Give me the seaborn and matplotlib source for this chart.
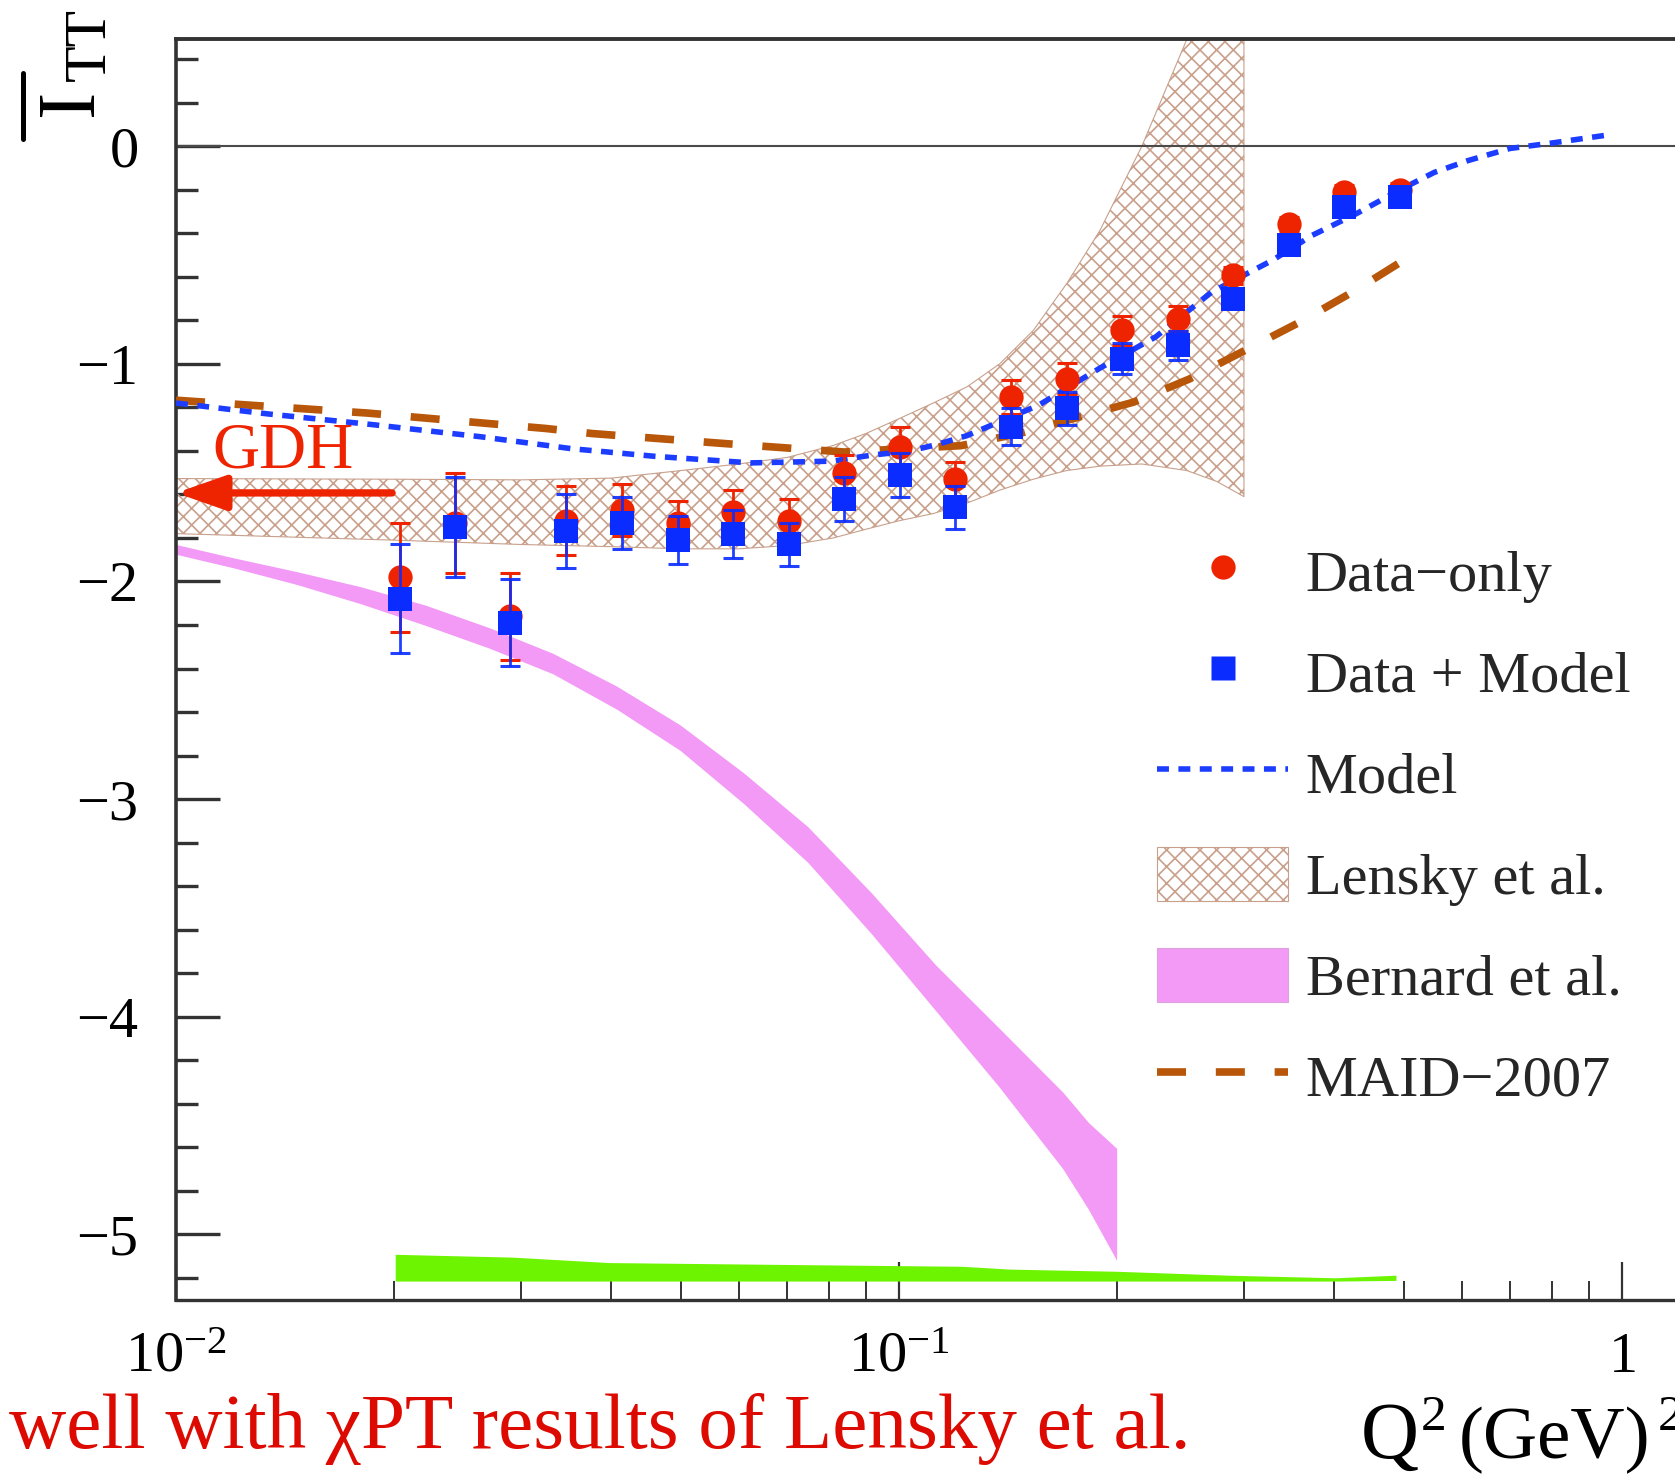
import numpy as np
import matplotlib
matplotlib.use("Agg")
import matplotlib.pyplot as plt
import seaborn as sns
from matplotlib.lines import Line2D
from matplotlib.patches import Patch, FancyArrowPatch
from matplotlib.ticker import FixedLocator, MultipleLocator, LogLocator, NullFormatter

sns.set_theme(style="white")
plt.rcParams["font.family"] = ["Liberation Serif", "DejaVu Serif"]
plt.rcParams["mathtext.fontset"] = "custom"
plt.rcParams["mathtext.rm"] = "Liberation Serif"
plt.rcParams["mathtext.it"] = "Liberation Serif:italic"
plt.rcParams["mathtext.bf"] = "Liberation Serif:bold"
plt.rcParams["hatch.linewidth"] = 1.2
plt.rcParams["axes.unicode_minus"] = True

# ---- measured points: Q^2 (GeV^2) ----
q2 = [0.0204, 0.0243, 0.0290, 0.0346, 0.0414, 0.0494, 0.0590, 0.0704, 0.0839,
      0.1002, 0.1196, 0.1430, 0.1706, 0.2037, 0.2432, 0.2900, 0.3462, 0.4132, 0.4932]
data_only = [-1.98, -1.73, -2.16, -1.72, -1.67, -1.73, -1.68, -1.72, -1.50,
             -1.38, -1.53, -1.152, -1.068, -0.846, -0.792, -0.593, -0.358, -0.21, -0.20]
data_only_err = [0.25, 0.23, 0.20, 0.16, 0.12, 0.10, 0.10, 0.10, 0.08,
                 0.09, 0.08, 0.08, 0.07, 0.065, 0.057, 0.04, 0.035, 0.03, 0.03]
data_model = [-2.08, -1.75, -2.19, -1.77, -1.73, -1.81, -1.78, -1.83, -1.62,
              -1.51, -1.66, -1.29, -1.205, -0.976, -0.915, -0.70, -0.455, -0.28, -0.235]
data_model_err = [0.25, 0.23, 0.20, 0.17, 0.12, 0.11, 0.11, 0.10, 0.10,
                  0.10, 0.10, 0.085, 0.077, 0.07, 0.065, 0.04, 0.035, 0.03, 0.03]

# ---- model curve ----
model_q2 = [0.0100, 0.0134, 0.0188, 0.0264, 0.0353, 0.0460, 0.0624, 0.0809, 0.0914,
            0.1036, 0.1130, 0.1241, 0.1560, 0.1895, 0.2265, 0.2707, 0.3289, 0.3724,
            0.4290, 0.4930, 0.5500, 0.6120, 0.7000, 0.8000, 0.9700]
model_val = [-1.18, -1.23, -1.28, -1.335, -1.39, -1.425, -1.455, -1.447, -1.42,
             -1.40, -1.37, -1.33, -1.19, -1.02, -0.876, -0.67, -0.523, -0.41,
             -0.31, -0.20, -0.12, -0.066, -0.01, 0.015, 0.055]

# ---- MAID-2007 ----
maid_q2 = [0.0100, 0.0184, 0.0325, 0.0376, 0.0573, 0.0840, 0.1217, 0.1480, 0.1767,
           0.2110, 0.2520, 0.3010, 0.3594, 0.4290, 0.4900]
maid_val = [-1.167, -1.226, -1.297, -1.320, -1.366, -1.405, -1.376, -1.317, -1.246,
            -1.176, -1.070, -0.938, -0.806, -0.660, -0.540]

# ---- Lensky et al. band ----
lensky_q2 = [0.0100, 0.0200, 0.0300, 0.0400, 0.0500, 0.0600, 0.0700, 0.0811, 0.0900,
             0.1003, 0.1115, 0.1241, 0.1379, 0.1534, 0.1706, 0.1897, 0.2167, 0.2500,
             0.2750, 0.3000]
lensky_hi = [-1.527, -1.530, -1.533, -1.525, -1.49, -1.46, -1.43, -1.375, -1.32,
             -1.25, -1.18, -1.106, -0.999, -0.846, -0.631, -0.386, 0.0, 0.49, 1.0, 1.6]
lensky_lo = [-1.78, -1.81, -1.83, -1.84, -1.85, -1.85, -1.835, -1.80, -1.76,
             -1.72, -1.688, -1.64, -1.58, -1.53, -1.49, -1.47, -1.46, -1.49, -1.54, -1.61]

# ---- Bernard et al. band ----
bern_q2 = [0.0100, 0.0120, 0.0147, 0.0180, 0.0221, 0.0271, 0.0332, 0.0407, 0.0498,
           0.0610, 0.0748, 0.0916, 0.1123, 0.1375, 0.1685, 0.1828, 0.2000]
bern_hi = [-1.83, -1.891, -1.955, -2.024, -2.108, -2.212, -2.33, -2.481, -2.659,
           -2.880, -3.127, -3.431, -3.761, -4.052, -4.347, -4.486, -4.605]
bern_lo = [-1.875, -1.937, -2.014, -2.102, -2.201, -2.306, -2.424, -2.587, -2.776,
           -3.021, -3.291, -3.619, -3.971, -4.322, -4.699, -4.885, -5.12]

# ---- lower green band ----
green_q2 = [0.0201, 0.0292, 0.0397, 0.0758, 0.1220, 0.1423, 0.2000, 0.2857, 0.4010, 0.4868]
green_hi = [-5.092, -5.105, -5.130, -5.140, -5.147, -5.160, -5.170, -5.188, -5.200, -5.188]
green_lo = [-5.215, -5.215, -5.215, -5.215, -5.215, -5.215, -5.215, -5.215, -5.215, -5.212]

# GDH sum-rule value at the real-photon point
gdh_value = -1.593
gdh_arrow_from = 0.0199

x_ticks = [0.01, 0.1, 1]
x_tick_labels = [r"$10^{-2}$", r"$10^{-1}$", r"$1$"]
y_ticks = [0, -1, -2, -3, -4, -5]
y_tick_labels = ["0", "\u22121", "\u22122", "\u22123", "\u22124", "\u22125"]

RED = "#ee2400"
BLUE = "#0a2cff"
BLUE_LINE = "#1c3cff"
BROWN = "#b8560a"
PINK = "#f29af6"
GREEN = "#6cf400"
HATCH = "#c8a08c"
AXCOL = "#333333"

W, H = 1675, 1474
fig = plt.figure(figsize=(W / 100, H / 100), dpi=100)
fig.patch.set_facecolor("white")
ax_l, ax_r, ax_t, ax_b = 176, 1700, 39, 1300
ax = fig.add_axes([ax_l / W, 1 - ax_b / H, (ax_r - ax_l) / W, (ax_b - ax_t) / H])
ax.set_facecolor("white")
ax.set_xscale("log")
ax.set_xlim(0.01, 10 ** (-2 + (ax_r - ax_l) / 723))
ax.set_ylim(-5.302, 0.493)

# theory bands
ax.fill_between(green_q2, green_lo, green_hi, color=GREEN, lw=0, zorder=1)
ax.fill_between(bern_q2, bern_lo, bern_hi, color=PINK, lw=0, zorder=1)
ax.fill_between(lensky_q2, lensky_lo, lensky_hi, facecolor="none", edgecolor=HATCH,
                hatch="xx", lw=0.8, zorder=2)

ax.axhline(0, color="#4a4a4a", lw=1.5, zorder=2.5)

# model curves
sns.lineplot(x=maid_q2, y=maid_val, ax=ax, color=BROWN, lw=5.5, estimator=None,
             sort=False, legend=False, linestyle=(0, (3.8, 3.9)),
             dash_capstyle="butt", zorder=3)
sns.lineplot(x=model_q2, y=model_val, ax=ax, color=BLUE_LINE, lw=4.0, estimator=None,
             sort=False, legend=False, linestyle=(0, (2.15, 1.7)),
             dash_capstyle="butt", zorder=3.2)

# data points
ax.errorbar(q2, data_only, yerr=data_only_err, fmt="none", ecolor=RED,
            elinewidth=2.0, capsize=7, capthick=2.2, zorder=4)
sns.scatterplot(x=q2, y=data_only, ax=ax, color=RED, marker="o", s=17.5 ** 2,
                linewidth=0, legend=False, zorder=5)
ax.errorbar(q2, data_model, yerr=data_model_err, fmt="none", ecolor=BLUE,
            elinewidth=2.0, capsize=7, capthick=2.2, alpha=0.9, zorder=6)
sns.scatterplot(x=q2, y=data_model, ax=ax, color=BLUE, marker="s", s=17.5 ** 2,
                linewidth=0, legend=False, zorder=7)

# GDH arrow and label
arrow = FancyArrowPatch((gdh_arrow_from, gdh_value), (0.01, gdh_value),
                        arrowstyle="-|>,head_length=30,head_width=10.5",
                        mutation_scale=1, lw=5.3, color=RED,
                        shrinkA=0, shrinkB=0, zorder=8)
ax.add_patch(arrow)
ax.text(0.01122, -1.475, "GDH", color=RED, fontsize=47, ha="left", va="baseline",
        zorder=8)

# axes styling
ax.xaxis.set_major_locator(FixedLocator(x_ticks))
ax.set_xticklabels(x_tick_labels)
ax.xaxis.set_minor_locator(LogLocator(base=10, subs=np.arange(2, 10)))
ax.xaxis.set_minor_formatter(NullFormatter())
ax.yaxis.set_major_locator(FixedLocator(y_ticks))
ax.set_yticklabels(y_tick_labels)
ax.yaxis.set_minor_locator(MultipleLocator(0.2))

ax.tick_params(axis="x", which="major", direction="in", length=27.5, width=1.6,
               color=AXCOL, labelsize=42, labelcolor="black", pad=51.8,
               bottom=True, top=False)
ax.tick_params(axis="x", which="minor", direction="in", length=13.7, width=1.4,
               color=AXCOL, bottom=True, top=False)
ax.tick_params(axis="y", which="major", direction="in", length=32, width=2.4,
               color=AXCOL, labelsize=42, labelcolor="black", pad=27,
               left=True, right=False)
ax.tick_params(axis="y", which="minor", direction="in", length=16, width=2.4,
               color=AXCOL, left=True, right=False)
for lbl in ax.get_xticklabels():
    lbl.set_verticalalignment("baseline")

for side in ("left", "bottom", "top"):
    ax.spines[side].set_color(AXCOL)
    ax.spines[side].set_visible(True)
ax.spines["left"].set_linewidth(2.6)
ax.spines["bottom"].set_linewidth(2.4)
ax.spines["top"].set_linewidth(2.8)
ax.spines["right"].set_visible(False)
ax.grid(False)

# legend
handles = [
    Line2D([], [], ls="none", marker="o", ms=17.5, mfc=RED, mec="none"),
    Line2D([], [], ls="none", marker="s", ms=17.5, mfc=BLUE, mec="none"),
    Line2D([], [], color=BLUE_LINE, lw=4.0, ls=(0, (2.15, 1.7)), dash_capstyle="butt"),
    Patch(facecolor="white", edgecolor=HATCH, hatch="xx", lw=0.8),
    Patch(facecolor=PINK, edgecolor="#dca2dc", lw=0.8),
    Line2D([], [], color=BROWN, lw=5.5, ls=(0, (3.8, 3.9)), dash_capstyle="butt"),
]
labels = ["Data\u2212only", "Data + Model", "Model", "Lensky et al.",
          "Bernard et al.", "MAID\u22122007"]
ax.legend(handles, labels, loc="upper left", bbox_to_anchor=(1157 / W, 1 - 544 / H),
          bbox_transform=fig.transFigure, frameon=False, fontsize=42,
          handlelength=2.25, handleheight=1.05, handletextpad=0.3,
          labelspacing=0.72, borderpad=0, borderaxespad=0)

# vertical axis title: barred I with TT subscript
fig.add_artist(Line2D([23 / W, 23 / W], [1 - 73 / H, 1 - 139 / H], color="black",
                      lw=3.6, transform=fig.transFigure))
fig.text(92 / W, 1 - 116 / H, "I", rotation=90, rotation_mode="anchor",
         ha="left", va="baseline", fontsize=58.7, color="black")
fig.text(105 / W, 1 - 81 / H, "TT", rotation=90, rotation_mode="anchor",
         ha="left", va="baseline", fontsize=43, color="black")

# horizontal axis title
fig.text(1361 / W, 1 - 1458 / H, "Q", ha="left", va="baseline", fontsize=58,
         color="black")
fig.text(1421 / W, 1 - 1430 / H, "2", ha="left", va="baseline", fontsize=37,
         color="black")
fig.text(1459 / W, 1 - 1458 / H, "(GeV)", ha="left", va="baseline", fontsize=54,
         color="black")
fig.text(1658 / W, 1 - 1430 / H, "2", ha="left", va="baseline", fontsize=37,
         color="black")

# caption line
fig.text(9 / W, 1 - 1448 / H, "well with \u03c7PT results of Lensky et al.",
         ha="left", va="baseline", fontsize=57, color="#dc0a00")

fig.savefig("out.png", dpi=100, facecolor="white")
